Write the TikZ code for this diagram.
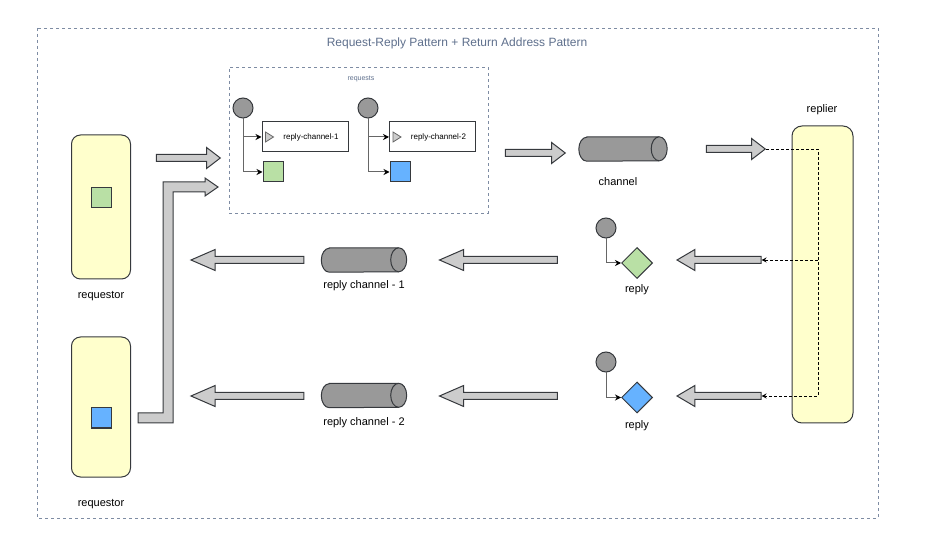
\documentclass[tikz,border=0pt]{standalone}
\usepackage{fontspec}
\setmainfont{Liberation Sans}
\usepackage{xcolor}
\usetikzlibrary{shapes.geometric,shapes.arrows,arrows.meta}

\definecolor{pale}{HTML}{FFFFCC}
\definecolor{edge}{HTML}{36393D}
\definecolor{metal}{HTML}{999999}
\definecolor{shaft}{HTML}{CCCCCC}
\definecolor{leaf}{HTML}{B9E0A5}
\definecolor{sky}{HTML}{66B2FF}
\definecolor{slate}{HTML}{5E6F8C}
\definecolor{wiregray}{HTML}{666666}

% pipe body drawn round a named node
\newcommand{\pipeshape}[1]{%
  \draw[pipedraw] ([xshift=8pt]#1.north west) -- ([xshift=-8pt]#1.north east)
    arc[start angle=90, end angle=-90, x radius=8pt, y radius=12pt]
    -- ([xshift=8pt]#1.south west)
    arc[start angle=270, end angle=90, x radius=8pt, y radius=12pt] -- cycle;
  \draw[pipedraw] ([xshift=-8pt]#1.north east)
    arc[start angle=90, end angle=270, x radius=8pt, y radius=12pt];
}

\begin{document}
\begin{tikzpicture}[x=1pt,y=-1pt,
  frame/.style={draw=slate!80, dash pattern=on 3pt off 3pt, line width=0.8pt},
  actor/.style={rectangle, rounded corners=9pt, draw=edge, fill=pale, minimum width=59pt, line width=1pt},
  msg/.style={rectangle, draw=edge, minimum size=20pt, inner sep=0pt, line width=1pt},
  hdr/.style={circle, draw=edge, fill=metal, minimum size=20pt, inner sep=0pt, line width=1pt},
  body/.style={diamond, draw=edge, minimum size=31pt, inner sep=0pt, line width=1pt},
  pipe/.style={rectangle, minimum height=24pt, minimum width=#1, inner sep=0pt},
  pipedraw/.style={draw=edge, fill=metal, line width=1pt},
  fat/.style={single arrow, draw=edge, fill=shaft, inner sep=0pt, inner ysep=3pt, single arrow head extend=7pt, minimum height=#1, line width=1pt},
  back/.style={shape border rotate=180},
  lbl/.style={font=\fontsize{11}{13}\selectfont, inner sep=1pt, yshift=-1.5pt},
  addr/.style={rectangle, draw=edge, minimum width=86pt, minimum height=30pt, inner sep=0pt, line width=1pt, font=\fontsize{8}{10}\selectfont},
  wire/.style={draw=wiregray, line width=1pt, -{Stealth[length=6pt,width=6pt,black]}},
  route/.style={draw=black, dash pattern=on 3pt off 2pt, line width=0.9pt}
]
\useasboundingbox (0,0) rectangle (927,545);

% outer frame
\draw[frame] (37,28) rectangle (878,518);
\node[text=slate, font=\fontsize{12}{14}\selectfont] (title) at (457,43) {Request-Reply Pattern + Return Address Pattern};

% requestors
\node[actor, minimum height=144pt] (req1) at (101,207) {};
\node[msg, fill=leaf] (key1) at (101.7,198) {};
\node[lbl] (req1lbl) at (101,295) {requestor};
\node[actor, minimum height=140pt] (req2) at (101,407) {};
\node[msg, fill=sky] (key2) at (101.7,418) {};
\node[lbl] (req2lbl) at (101,503) {requestor};

% replier
\node[actor, rounded corners=10pt, minimum width=61pt, minimum height=297pt] (replier) at (822.5,274.5) {};
\node[lbl] (replierlbl) at (822,108) {replier};

% requests
\node[frame, rectangle, minimum width=259pt, minimum height=146pt] (reqbox) at (358.5,140) {};
\node[text=slate, font=\fontsize{7}{8}\selectfont] (reqlbl) at (361,79) {requests};
\node[hdr] (h1) at (243,108) {};
\node[hdr] (h2) at (368,108) {};
\node[addr] (a1) at (305,137) {\hspace*{12pt}reply-channel-1};
\node[addr] (a2) at (432.5,137) {\hspace*{12pt}reply-channel-2};
\draw[draw=wiregray, fill=shaft, line width=0.8pt] ([xshift=4pt,yshift=5pt]a1.west) -- ++(8,5) -- ++(-8,5) -- cycle;
\draw[draw=wiregray, fill=shaft, line width=0.8pt] ([xshift=4pt,yshift=5pt]a2.west) -- ++(8,5) -- ++(-8,5) -- cycle;
\node[msg, fill=leaf] (p1) at (273,172) {};
\node[msg, fill=sky] (p2) at (400,172) {};
\draw[wire] (h1) |- (a1);
\draw[wire] (h1) |- (p1);
\draw[wire] (h2) |- (a2);
\draw[wire] (h2) |- (p2);

% block arrows
\node[fat=64pt, single arrow tip angle=75] (send1) at (186,158) {};
\draw[draw=edge, fill=shaft, line width=1pt] (138,413) -- (163,413) -- (163,182) -- (205,182) -- (205,178)
  -- (218,187) -- (205,196) -- (205,192) -- (173,192) -- (173,423) -- (138,423) -- cycle;
\node[fat=60pt, single arrow tip angle=75] (send) at (533,153) {};
\node[fat=59pt, single arrow tip angle=75] (deliver) at (733.5,149) {};
\node[fat=84pt, back, single arrow tip angle=61] (ret1) at (722,260) {};
\node[fat=84pt, back, single arrow tip angle=61] (ret2) at (722,396) {};
\node[fat=118pt, back, single arrow tip angle=47] (in1) at (502.5,260) {};
\node[fat=118pt, back, single arrow tip angle=47] (in2) at (502.5,396) {};
\node[fat=113pt, back, single arrow tip angle=47] (out1) at (251.5,260) {};
\node[fat=113pt, back, single arrow tip angle=47] (out2) at (251.5,396) {};

% channels
\node[pipe=88pt] (chan) at (623,149) {};
\pipeshape{chan}
\node[lbl] (chanlbl) at (618,180) {channel};
\node[pipe=85pt] (rch1) at (364,260) {};
\pipeshape{rch1}
\node[lbl] (rch1lbl) at (364,284) {reply channel - 1};
\node[pipe=85pt] (rch2) at (364,395.5) {};
\pipeshape{rch2}
\node[lbl] (rch2lbl) at (364,421.5) {reply channel - 2};

% replies
\node[hdr] (rh1) at (606,228) {};
\node[body, fill=leaf] (rb1) at (637,263) {};
\node[lbl] (rb1lbl) at (637,288) {reply};
\draw[wire] (rh1) |- (rb1);
\node[hdr] (rh2) at (606,362) {};
\node[body, fill=sky] (rb2) at (637,397.5) {};
\node[lbl] (rb2lbl) at (637,424) {reply};
\draw[wire] (rh2) |- (rb2);

% return address routing
\coordinate (spine) at (818,0);
\draw[route, -{Stealth[length=5pt,width=5pt]}] (deliver.tip) -| (ret2.tail -| spine) -- (ret2.tail);
\draw[route, -{Stealth[length=5pt,width=5pt]}] (ret1.tail -| spine) -- (ret1.tail);
\end{tikzpicture}
\end{document}
